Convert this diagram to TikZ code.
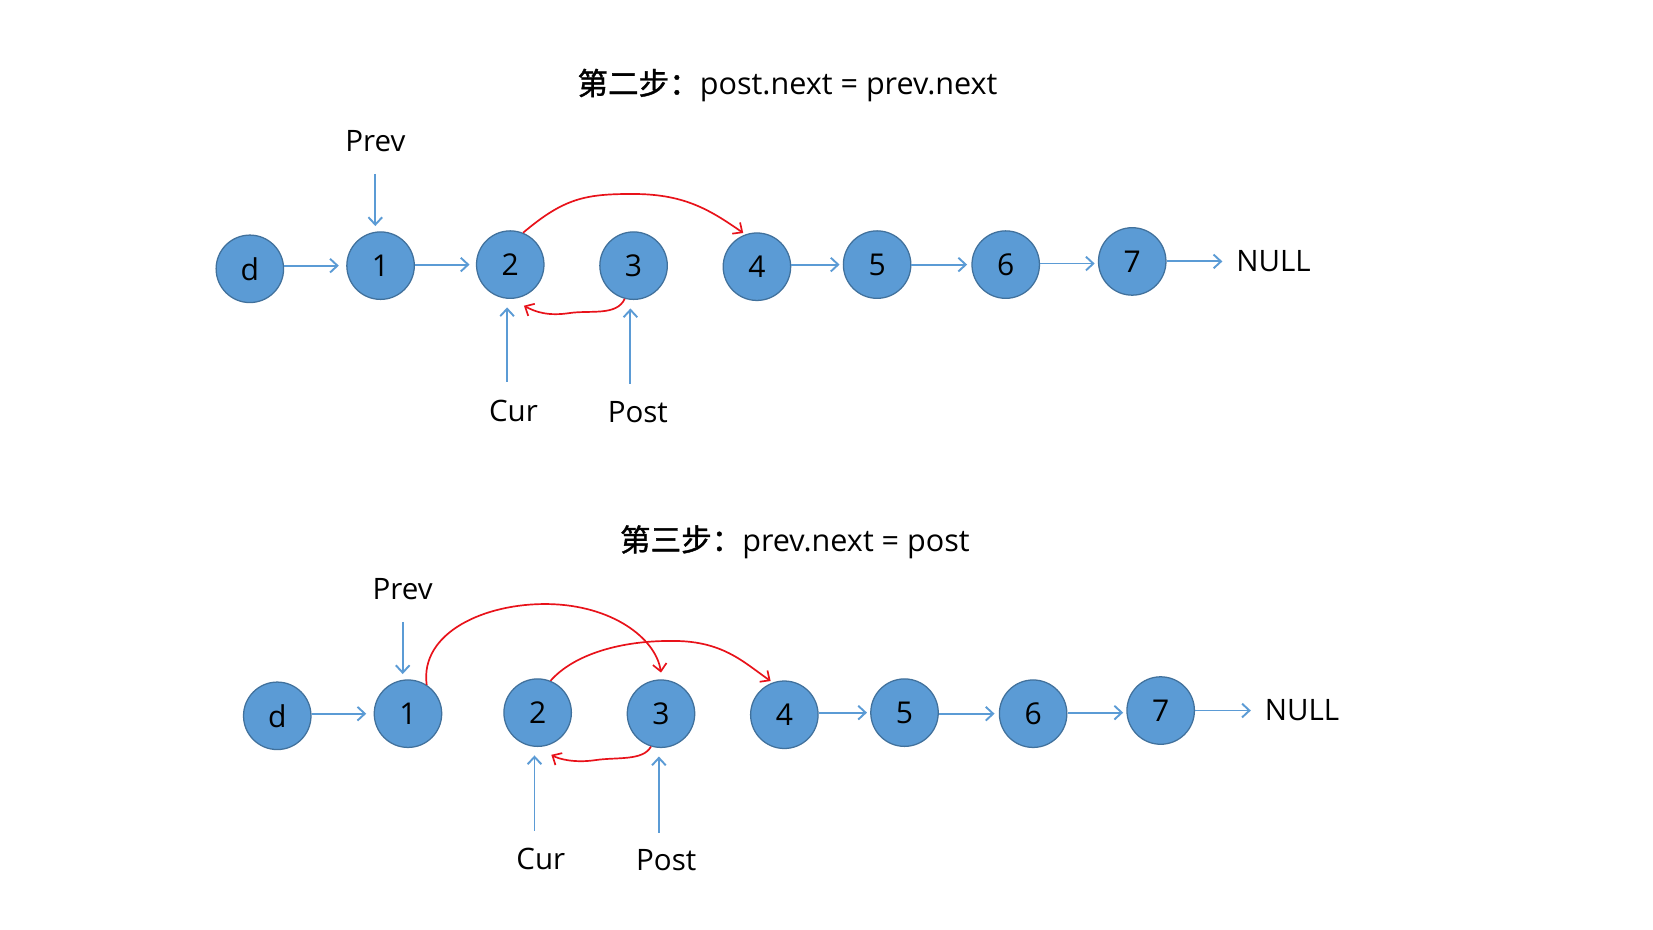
\documentclass[tikz,border=0pt]{standalone}
\usepackage{fontspec}
\setmainfont{Open Sans}
\newfontfamily\cjkfont{Noto Sans CJK SC}[FakeBold=1.2]
\usetikzlibrary{arrows.meta}
\definecolor{nodeblue}{HTML}{5B9BD5}
\definecolor{nodeedge}{HTML}{41719C}
\definecolor{ptrblue}{HTML}{5B9BD5}
\definecolor{redline}{HTML}{E8121A}
\begin{document}
\begin{tikzpicture}[x=1pt,y=-1pt,
  listnode/.style={circle, fill=nodeblue, draw=nodeedge, line width=1.2pt, minimum size=64pt, inner sep=0pt, font=\fontsize{28.5}{32}\selectfont},
  lbl/.style={font=\fontsize{28}{32}\selectfont, inner sep=0pt},
  ttl/.style={font=\fontsize{29}{32}\selectfont, inner sep=0pt},
  link/.style={draw=ptrblue, line width=1.8pt, -{Straight Barb[length=7pt,width=13pt]}},
  redarrow/.style={draw=redline, line width=1.6pt, -{Straight Barb[length=7pt,width=13pt]}}
]
\useasboundingbox[fill=white] (0,0) rectangle (1568,882);

% ---------- step 2 ----------
\node[ttl] (title1) at (747,81) {{\cjkfont 第二步：}post.next = prev.next};
\node[listnode] (ad) at (237,255) {d};
\node[listnode] (a1) at (361,252) {1};
\node[listnode] (a2) at (484,251) {2};
\node[listnode] (a3) at (601,252) {3};
\node[listnode] (a4) at (718,253) {4};
\node[listnode] (a5) at (832,251) {5};
\node[listnode] (a6) at (954,251) {6};
\node[listnode] (a7) at (1074,248) {7};
\node[lbl] (anull) at (1208,248) {NULL};
\node[lbl] (aprev) at (356,134) {Prev};
\node[lbl] (acur) at (487,390) {Cur};
\node[lbl] (apost) at (605,391) {Post};
\coordinate (aprevs) at (356,165);
\coordinate (acurs) at (481,362);
\coordinate (aposts) at (598,364);

\draw[link, shorten >=7pt] (a1.west -| ad.east) -- (a1.west);
\draw[link, shorten >=6pt] (a2.west -| a1.east) -- (a2.west);
\draw[link, shorten >=3pt] (a5.west -| a4.east) -- (a5.west);
\draw[link, shorten >=4pt] (a6.west -| a5.east) -- (a6.west);
\draw[link, shorten >=3pt] ([yshift=-2pt]a7.west -| a6.east) -- ([yshift=-2pt]a7.west);
\draw[link, shorten >=13pt] (a7.east) -- (anull.west);
\draw[link, shorten >=5pt] (aprevs) -- (aprevs |- a1.north);
\draw[link, shorten >=8pt] (acurs) -- (acurs |- a2.south);
\draw[link, shorten >=8pt] (aposts) -- (aposts |- a3.south);

\draw[redarrow] (a2.68) .. controls (535,188) and (555,184) .. (600,184)
  .. controls (648,184) and (672,198) .. ([shift={(-13,-32)}]a4.center);
\draw[redarrow] (a3.255) .. controls (585,300) and (560,294) .. (540,297)
  .. controls (520,300) and (508,296) .. ([shift={(13,39)}]a2.center);

% ---------- step 3 ----------
\node[ttl] (title2) at (754,514) {{\cjkfont 第三步：}prev.next = post};
\node[listnode] (bd) at (263,679) {d};
\node[listnode] (b1) at (387,677) {1};
\node[listnode] (b2) at (510,676) {2};
\node[listnode] (b3) at (627,677) {3};
\node[listnode] (b4) at (744,678) {4};
\node[listnode] (b5) at (858,676) {5};
\node[listnode] (b6) at (980,677) {6};
\node[listnode] (b7) at (1101,674) {7};
\node[lbl] (bnull) at (1235,674) {NULL};
\node[lbl] (bprev) at (382,559) {Prev};
\node[lbl] (bcur) at (513,815) {Cur};
\node[lbl] (bpost) at (632,816) {Post};
\coordinate (bprevs) at (382,590);
\coordinate (bcurs) at (507,788);
\coordinate (bposts) at (625,790);

\draw[link, shorten >=7pt] (b1.west -| bd.east) -- (b1.west);
\draw[link, shorten >=3pt] (b5.west -| b4.east) -- (b5.west);
\draw[link, shorten >=4pt] (b6.west -| b5.east) -- (b6.west);
\draw[link, shorten >=3pt] ([yshift=-2pt]b7.west -| b6.east) -- ([yshift=-2pt]b7.west);
\draw[link, shorten >=13pt] (b7.east) -- (bnull.west);
\draw[link, shorten >=5pt] (bprevs) -- (bprevs |- b1.north);
\draw[link, shorten >=8pt] (bcurs) -- (bcurs |- b2.south);
\draw[link, shorten >=8pt] (bposts) -- (bposts |- b3.south);

\draw[redarrow] (b1.57) .. controls (398,600) and (460,572) .. (520,573)
  .. controls (580,574) and (622,605) .. ([shift={(0,-39)}]b3.center);
\draw[redarrow] (b2.68) .. controls (545,620) and (590,608) .. (635,608)
  .. controls (685,607) and (705,628) .. ([shift={(-13,-32)}]b4.center);
\draw[redarrow] (b3.253) .. controls (610,722) and (585,718) .. (565,721)
  .. controls (545,724) and (530,720) .. ([shift={(13,40)}]b2.center);
\end{tikzpicture}
\end{document}
